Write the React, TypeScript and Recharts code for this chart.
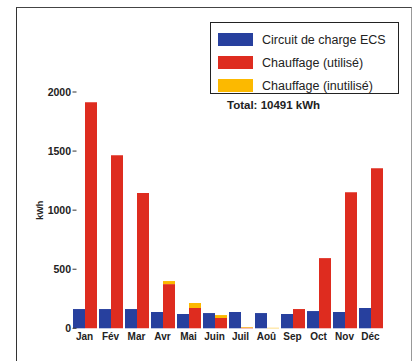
import { BarChart, Bar, XAxis, YAxis } from 'recharts'

const months = ['Jan', 'Fév', 'Mar', 'Avr', 'Mai', 'Juin', 'Juil', 'Aoû', 'Sep', 'Oct', 'Nov', 'Déc']
const ecs = [163, 163, 163, 138, 121, 129, 138, 129, 121, 146, 138, 172]
const heatUsed = [1913, 1465, 1146, 374, 172, 87, 5, 0, 163, 594, 1152, 1355]
const heatUnused = [0, 0, 0, 26, 42, 25, 5, 4, 0, 0, 0, 0]
const yTicks = [0, 500, 1000, 1500, 2000]
const totalLabel = 'Total: 10491 kWh'

const BLUE = '#27409E'
const RED = '#DE2C1F'
const YELLOW = '#FCB900'
const FONT = '"Liberation Sans", Arial, Helvetica, sans-serif'

const legendItems = [
  { label: 'Circuit de charge ECS', color: BLUE },
  { label: 'Chauffage (utilisé)', color: RED },
  { label: 'Chauffage (inutilisé)', color: YELLOW },
]

const data = months.map((m, i) => ({
  month: m,
  ecs: ecs[i],
  used: heatUsed[i],
  unused: heatUnused[i],
}))

const YTick = ({ x, y, payload }: any) => (
  <g>
    <text
      x={x - 0.5}
      y={y}
      textAnchor="end"
      dominantBaseline="central"
      fontFamily={FONT}
      fontSize={10.5}
      fontWeight="bold"
      fill="#222"
    >
      {payload.value}
    </text>
    <line x1={x + 1} x2={x + 5} y1={y} y2={y} stroke="#333" strokeWidth={1} />
  </g>
)

// legend drawn outside the chart so it doesn't eat plot space
const LegendBox = () => (
  <div
    style={{
      position: 'absolute',
      left: 210,
      top: 22,
      width: 189,
      height: 72,
      border: '1px solid #222',
      background: '#fff',
      boxSizing: 'border-box',
      padding: '5px 0 0 7px',
      fontFamily: FONT,
    }}
  >
    {legendItems.map((it) => (
      <div key={it.label} style={{ display: 'flex', alignItems: 'center', height: 23 }}>
        <div style={{ width: 35, height: 13, background: it.color }} />
        <span style={{ marginLeft: 9, fontSize: 12.5, color: '#222' }}>{it.label}</span>
      </div>
    ))}
  </div>
)

export default function App() {
  return (
    <div style={{ position: 'absolute', left: 0, top: 0, width: 416, height: 361, background: '#fff', overflow: 'hidden' }}>
      <div
        style={{
          position: 'absolute',
          left: 16,
          top: 7,
          width: 394,
          height: 400,
          borderLeft: '1px solid #333',
          borderTop: '1px solid #444',
          borderRight: '1px solid #999',
        }}
      />
      <LegendBox />
      <div
        style={{
          position: 'absolute',
          left: 227,
          top: 99,
          fontFamily: FONT,
          fontSize: 11.5,
          fontWeight: 'bold',
          color: '#222',
        }}
      >
        {totalLabel}
      </div>
      <div style={{ position: 'absolute', left: 0, top: 0 }}>
        <BarChart
          width={416}
          height={361}
          data={data}
          margin={{ top: 92, right: 32.5, bottom: 12.7, left: 16 }}
          barCategoryGap={1.5}
          barGap={0}
        >
          <XAxis
            dataKey="month"
            axisLine={false}
            tickLine={false}
            tickSize={0}
            tickMargin={5}
            height={20}
            interval={0}
            tick={{ fontFamily: FONT, fontSize: 10, fontWeight: 'bold', fill: '#222' }}
          />
          <YAxis
            width={55.5}
            domain={[0, 2000]}
            ticks={yTicks}
            axisLine={false}
            tickLine={false}
            tickSize={0}
            tickMargin={0}
            tick={<YTick />}
            label={{
              content: ({ viewBox }: any) => {
                const cx = viewBox.x + 24
                const cy = viewBox.y + viewBox.height / 2
                return (
                  <text
                    x={cx}
                    y={cy}
                    transform={`rotate(-90 ${cx} ${cy})`}
                    textAnchor="middle"
                    dominantBaseline="central"
                    fontFamily={FONT}
                    fontSize={9}
                    fontWeight="bold"
                    fill="#222"
                  >
                    kWh
                  </text>
                )
              },
            }}
          />
          <Bar dataKey="ecs" stackId="a" fill={BLUE} isAnimationActive={false} />
          <Bar dataKey="used" stackId="b" fill={RED} isAnimationActive={false} />
          <Bar dataKey="unused" stackId="b" fill={YELLOW} isAnimationActive={false} />
        </BarChart>
      </div>
    </div>
  )
}
